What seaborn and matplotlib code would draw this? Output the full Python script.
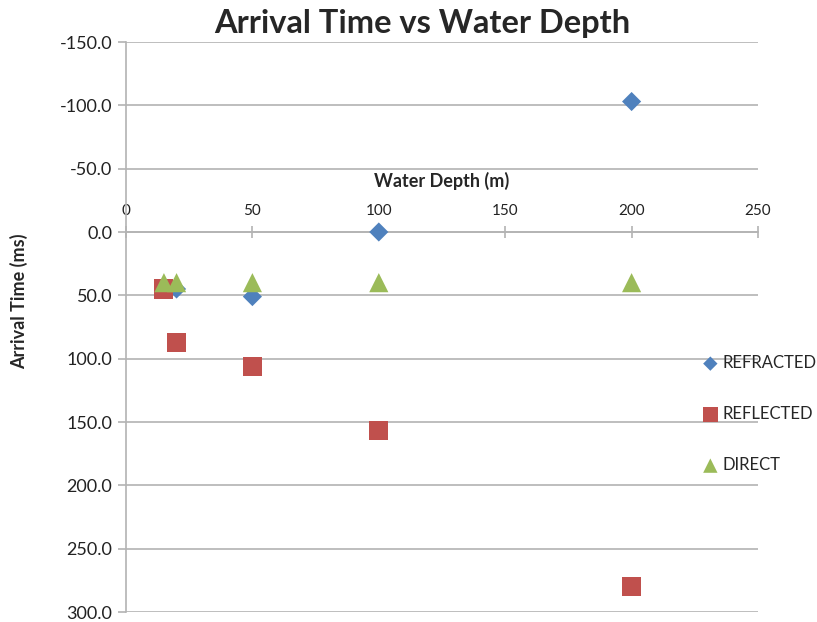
import matplotlib
matplotlib.use("Agg")
import matplotlib.pyplot as plt
import seaborn as sns
import pandas as pd

# Arrival times (ms) for each wave type at the sampled water depths (m)
depths = [15, 20, 50, 100, 200]
refracted = [43, 45, 51, 0, -103]
reflected = [45, 87, 106, 157, 280]
direct = [40, 40, 40, 40, 40]

series_names = ["REFRACTED", "REFLECTED", "DIRECT"]
y_ticks = [-150, -100, -50, 0, 50, 100, 150, 200, 250, 300]
x_ticks = [0, 50, 100, 150, 200, 250]

df = pd.DataFrame({
    "depth": depths * 3,
    "time": refracted + reflected + direct,
    "wave": [series_names[0]] * len(depths)
            + [series_names[1]] * len(depths)
            + [series_names[2]] * len(depths),
})

sns.set_theme(style="white")
plt.rcParams["font.family"] = ["Lato", "DejaVu Sans"]

fig = plt.figure(figsize=(8.17, 6.22), dpi=100)
ax = fig.add_axes([126 / 817, 1 - 612 / 622, (758 - 126) / 817, (612 - 42) / 622])

palette = {"REFRACTED": "#4F81BD", "REFLECTED": "#C0504D", "DIRECT": "#9BBB59"}
markers = {"REFRACTED": "D", "REFLECTED": "s", "DIRECT": "^"}
sizes = {"REFRACTED": 95, "REFLECTED": 190, "DIRECT": 190}

for name in series_names:
    sub = df[df["wave"] == name]
    sns.scatterplot(data=sub, x="depth", y="time", color=palette[name],
                    marker=markers[name], s=sizes[name], edgecolor="none",
                    linewidth=0, ax=ax, label=name, zorder=3)

ax.set_xlim(0, 250)
ax.set_ylim(300, -150)
ax.set_yticks(y_ticks)
ax.set_yticklabels([f"{v:.1f}" for v in y_ticks], fontsize=13)
ax.set_xticks(x_ticks)
ax.set_xticklabels([str(v) for v in x_ticks], fontsize=13)

grid_c = "#B3B3B3"
ax.yaxis.grid(True, color=grid_c, linewidth=1.2)
ax.xaxis.grid(False)

# x axis crosses at zero, labels sit above it
ax.spines["top"].set_position(("data", 0))
ax.spines["bottom"].set_visible(False)
ax.spines["right"].set_visible(False)
for s in ("top", "left"):
    ax.spines[s].set_color(grid_c)
    ax.spines[s].set_linewidth(1.2)
ax.xaxis.set_ticks_position("top")
ax.xaxis.set_label_position("top")
ax.tick_params(axis="x", which="major", direction="inout", length=8,
               width=1.2, pad=6, color=grid_c, labelcolor="#222222")
ax.tick_params(axis="y", direction="out", length=6, color=grid_c, width=1.2,
               pad=4, labelcolor="#222222")
ax.tick_params(axis="y", left=True)

ax.set_xlabel("Water Depth (m)", fontsize=13, fontweight="bold", labelpad=12)
ax.set_ylabel("Arrival Time (ms)", fontsize=13, fontweight="bold")
ax.yaxis.set_label_coords(-0.155, (612 - 301) / 570)

fig.suptitle("Arrival Time vs Water Depth", fontsize=23.5, fontweight="bold",
             x=422 / 817, y=1 - 9 / 622, va="top")

ax.get_legend().remove()
handles, labels = ax.get_legend_handles_labels()
fig.legend(handles, labels, loc="center left", bbox_to_anchor=(702 / 817, 1 - 414 / 622),
           frameon=False, fontsize=12, labelspacing=2.1, handletextpad=0.2,
           handlelength=1.0, markerscale=0.75, borderaxespad=0, borderpad=0)

fig.savefig("out.png", dpi=100)
